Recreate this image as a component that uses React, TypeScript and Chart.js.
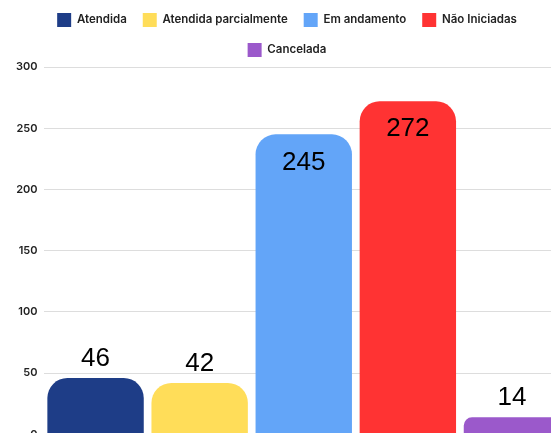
import React, { useEffect, useRef } from "react";
import { Chart, registerables } from "chart.js";

Chart.register(...registerables);

const categories = [""];
const seriesNames = ["Atendida", "Atendida parcialmente", "Em andamento", "Não Iniciadas", "Cancelada"];
const seriesValues = [46, 42, 245, 272, 14];
const seriesColors = ["#1E3D87", "#FFDD59", "#63A5F8", "#FF3333", "#9B59CB"];
const yTicks = [0, 50, 100, 150, 200, 250, 300];

const valueLabels = {
  id: "valueLabels",
  afterDatasetsDraw(chart: any) {
    const ctx = chart.ctx;
    ctx.save();
    ctx.font = "26px 'Liberation Sans', Arial, sans-serif";
    ctx.fillStyle = "#000";
    ctx.textAlign = "center";
    ctx.textBaseline = "middle";
    chart.data.datasets.forEach((ds: any, i: number) => {
      const meta = chart.getDatasetMeta(i);
      meta.data.forEach((bar: any, j: number) => {
        const v = ds.data[j];
        const inside = v > 200;
        const y = inside ? bar.y + 28 : bar.y - 19;
        ctx.fillText(String(v), bar.x, y);
      });
    });
    ctx.restore();
  },
};

export default function App() {
  const ref = useRef<HTMLCanvasElement>(null);
  useEffect(() => {
    if (!ref.current) return;
    const chart = new Chart(ref.current, {
      type: "bar",
      data: {
        labels: categories,
        datasets: seriesNames.map((name, i) => ({
          label: name,
          data: [seriesValues[i]],
          backgroundColor: seriesColors[i],
          borderRadius: { topLeft: 20, topRight: 20, bottomLeft: 0, bottomRight: 0 },
          borderSkipped: "bottom",
          categoryPercentage: 1,
          barPercentage: 0.926,
        })),
      },
      options: {
        animation: false,
        responsive: true,
        maintainAspectRatio: false,
        layout: { padding: { top: -3, left: 10, right: 4, bottom: 0 } },
        plugins: {
          tooltip: { enabled: false },
          legend: {
            position: "top",
            labels: {
              boxWidth: 14,
              boxHeight: 14,
              padding: 16,
              color: "#222",
              font: { family: "Inter, sans-serif", size: 11.5, weight: "600" },
            },
          },
        },
        scales: {
          x: {
            ticks: { display: false },
            grid: { display: false },
            border: { display: true, color: "#888", width: 1 },
          },
          y: {
            min: yTicks[0],
            max: yTicks[yTicks.length - 1],
            afterBuildTicks: (axis: any) => {
              axis.ticks = yTicks.map((v) => ({ value: v }));
            },
            ticks: {
              padding: 6,
              color: "#222",
              font: { family: "Inter, sans-serif", size: 11, weight: "600" },
            },
            grid: { color: "#DDDDDD", drawTicks: false, lineWidth: 1 },
            border: { display: false },
          },
        },
      },
      plugins: [valueLabels],
    });
    return () => chart.destroy();
  }, []);
  return (
    <div style={{ position: "fixed", left: 0, top: 0, width: 551, height: 433, overflow: "hidden", background: "#fff" }}>
      <div style={{ position: "absolute", left: 0, top: 0, width: 568, height: 447 }}>
        <canvas ref={ref} />
      </div>
    </div>
  );
}
